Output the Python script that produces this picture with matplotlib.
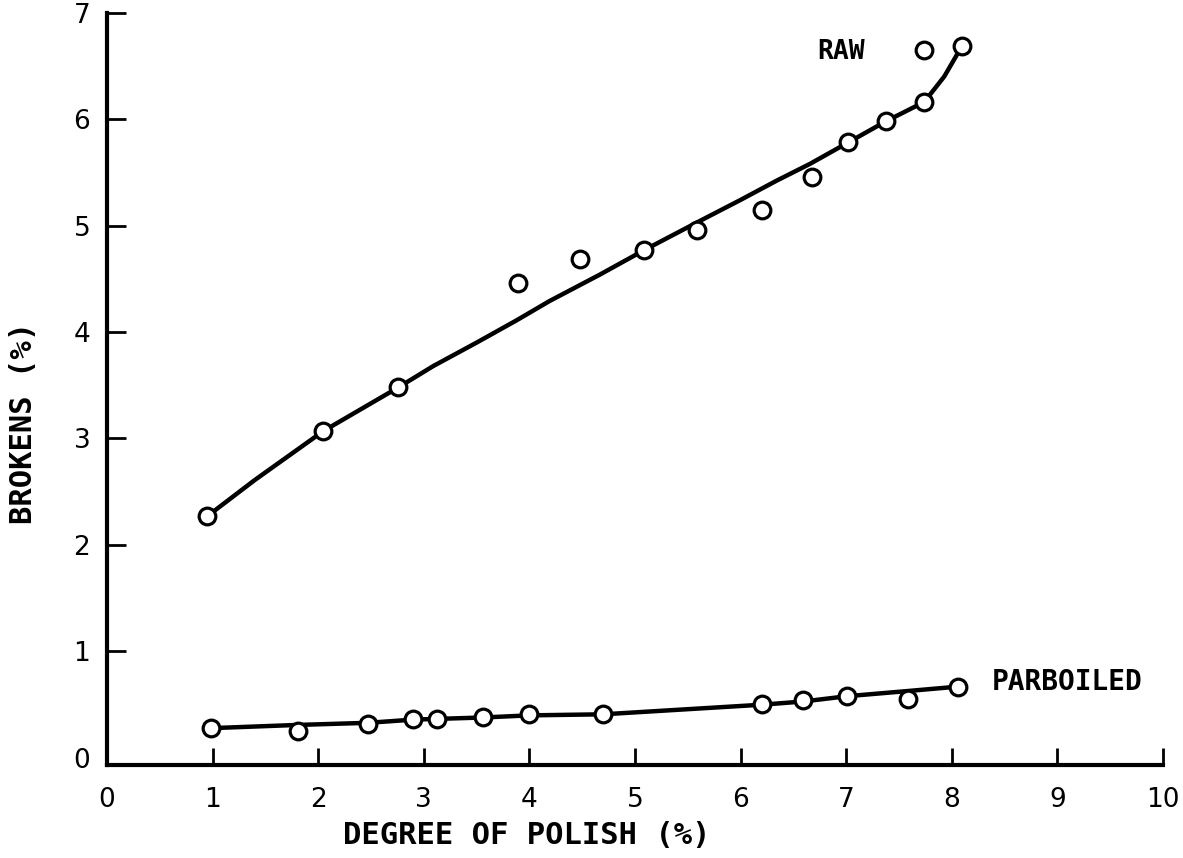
import matplotlib
matplotlib.use("Agg")
import matplotlib.pyplot as plt

# measured points: degree of polish (%) vs brokens (%)
raw_x = [0.95, 2.05, 2.76, 3.89, 4.48, 5.09, 5.59, 6.20, 6.68, 7.02, 7.38, 7.74, 7.74, 8.10]
raw_y = [2.27, 3.07, 3.48, 4.46, 4.69, 4.77, 4.96, 5.15, 5.46, 5.78, 5.98, 6.16, 6.65, 6.69]

parb_x = [0.99, 1.81, 2.47, 2.90, 3.13, 3.56, 4.00, 4.70, 6.20, 6.59, 7.01, 7.59, 8.06]
parb_y = [0.28, 0.25, 0.32, 0.37, 0.37, 0.38, 0.41, 0.41, 0.51, 0.54, 0.58, 0.55, 0.67]

# hand drawn fitted curves
raw_curve_x = [0.95, 1.40, 2.05, 2.76, 3.09, 3.50, 3.88, 4.19, 4.67, 5.09, 5.59, 6.00, 6.34, 6.66, 7.02, 7.38, 7.74, 7.93, 8.10]
raw_curve_y = [2.27, 2.61, 3.07, 3.48, 3.68, 3.90, 4.11, 4.29, 4.54, 4.77, 5.03, 5.24, 5.42, 5.58, 5.78, 5.98, 6.16, 6.40, 6.69]

parb_curve_x = [0.99, 1.80, 2.47, 2.90, 3.56, 4.00, 4.70, 6.20, 6.59, 7.01, 7.60, 8.06]
parb_curve_y = [0.28, 0.31, 0.33, 0.36, 0.38, 0.40, 0.41, 0.50, 0.53, 0.58, 0.63, 0.67]

x_ticks = list(range(0, 11))
y_ticks = list(range(0, 8))

fig = plt.figure(figsize=(11.83, 8.58), dpi=100)
ax = fig.add_axes([0.0904, 0.1084, 0.8926, 0.877])

# curves first, circles on top
ax.plot(raw_curve_x, raw_curve_y, color="black", lw=3.2, zorder=2, solid_capstyle="round")
ax.plot(parb_curve_x, parb_curve_y, color="black", lw=3.2, zorder=2, solid_capstyle="round")
ax.plot(raw_x, raw_y, "o", ms=12, mfc="white", mec="black", mew=2.3, zorder=3, clip_on=False)
ax.plot(parb_x, parb_y, "o", ms=12, mfc="white", mec="black", mew=2.3, zorder=3, clip_on=False)

ax.set_xlim(0, 10)
ax.set_ylim(-0.066, 7)
ax.set_xticks(x_ticks)
ax.set_yticks(y_ticks)

for side in ["top", "right"]:
    ax.spines[side].set_visible(False)
for side in ["left", "bottom"]:
    ax.spines[side].set_linewidth(3)

ax.tick_params(axis="x", direction="in", length=12, width=2, pad=16, labelsize=19)
ax.tick_params(axis="y", direction="in", length=14, width=2, pad=12, labelsize=19)

# no tick marks at the origin, only the labels
ax.xaxis.get_major_ticks()[0].tick1line.set_visible(False)
ax.yaxis.get_major_ticks()[0].tick1line.set_visible(False)

# labels
lab_font = dict(family="DejaVu Sans Mono", weight="bold")
ax.text(6.95, 6.63, "RAW", fontsize=19, ha="center", va="center", **lab_font)
ax.text(8.38, 0.71, "PARBOILED", fontsize=20, ha="left", va="center", clip_on=False, **lab_font)

fig.text(527 / 1183, 1 - 835 / 858, "DEGREE OF POLISH (%)", fontsize=22,
         ha="center", va="center", **lab_font)
fig.text(24 / 1183, 1 - 423 / 858, "BROKENS (%)", fontsize=22, rotation=90,
         ha="center", va="center", **lab_font)

plt.savefig("out.png", dpi=100)
